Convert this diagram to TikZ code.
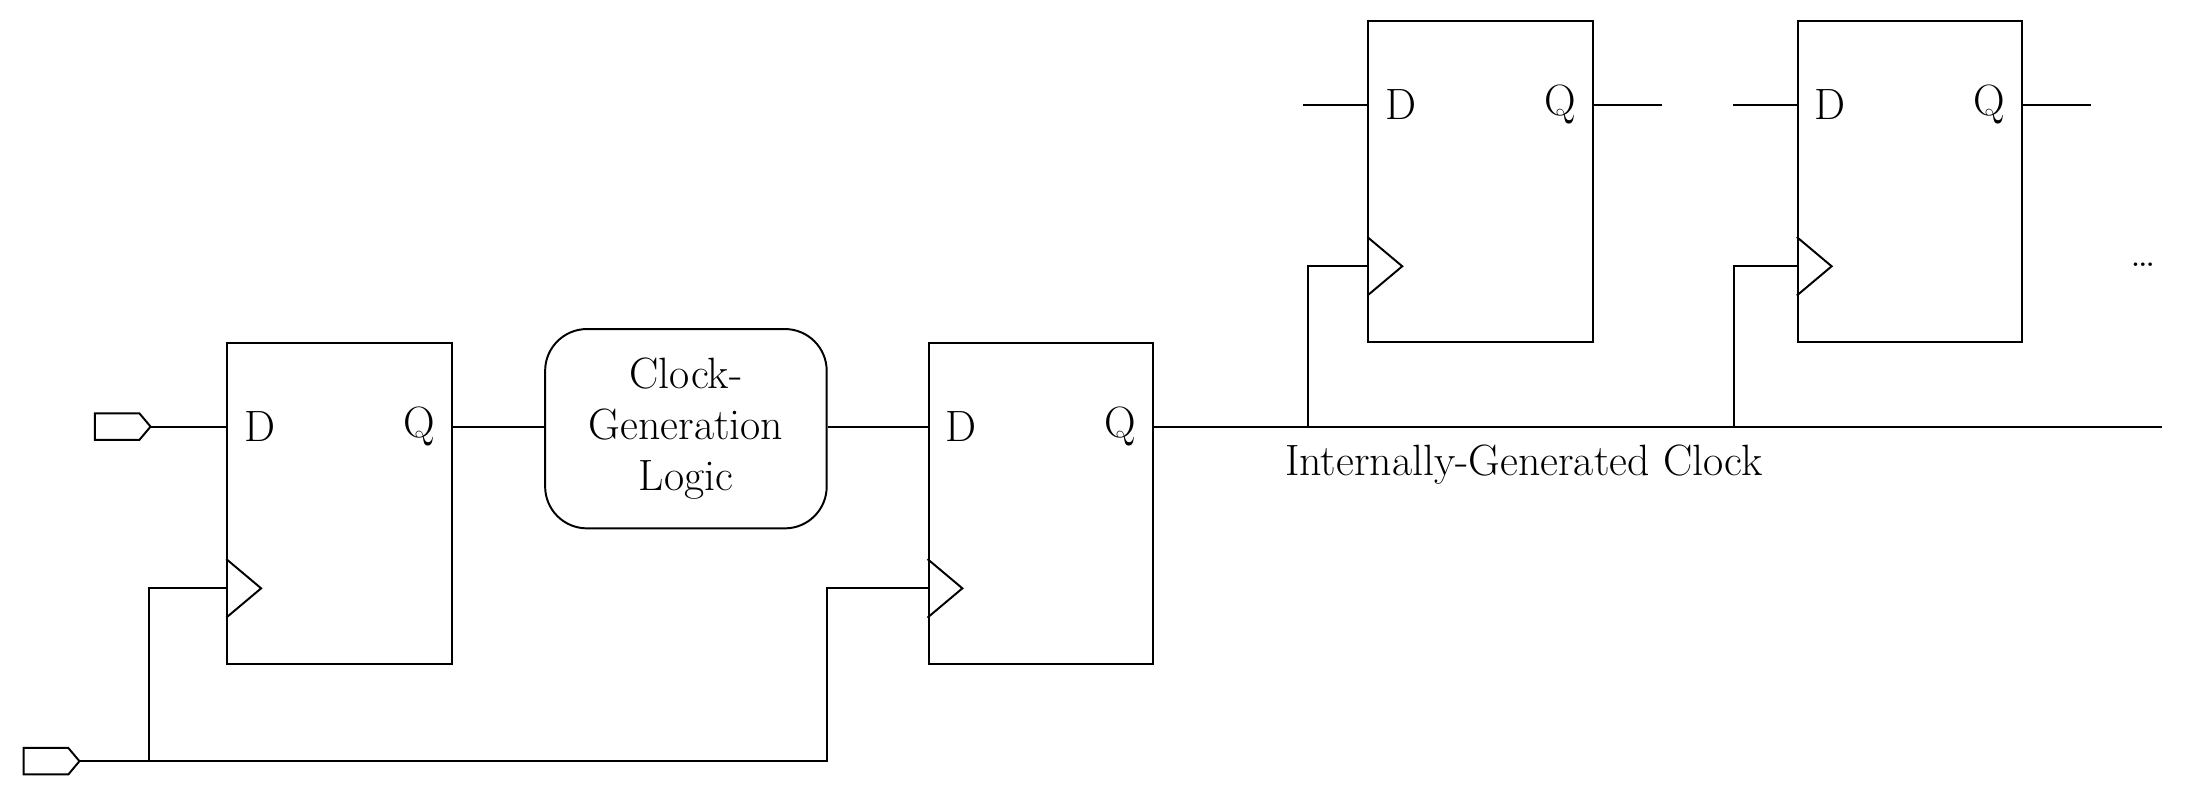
\documentclass[tikz,border=0pt]{standalone}
\usetikzlibrary{positioning}
\begin{document}
\begin{tikzpicture}[x=0.02cm,y=-0.02cm,thick,
  every node/.style={font=\fontsize{17.9}{21}\selectfont},
  ff/.style={draw,minimum width=3.22cm,minimum height=4.6cm},
  logic/.style={draw,rounded corners=0.6cm,minimum width=4.04cm,minimum height=2.86cm,align=center}]
  \useasboundingbox (0,0) rectangle (1568,571);

  % Flip-flops
  \foreach \n/\x/\y in {ff1/243.5/361, ff2/746.5/361, ff3/1062/130, ff4/1370/130}{
    \node[ff] (\n) at (\x,\y) {};
    \coordinate (\n-d) at ([shift={(0,-55)}]\n.west);
    \coordinate (\n-q) at ([shift={(0,-55)}]\n.east);
    \coordinate (\n-clk) at ([shift={(0,61)}]\n.west);
    \node[anchor=center] (\n-dl) at ([shift={(24,0)}]\n-d) {D};
    \node[anchor=center] (\n-ql) at ([shift={(-24,0)}]\n-q) {Q};
    \draw ([shift={(0,-21)}]\n-clk) -- ++(25,21) -- ++(-25,21);
  }

  % Clock generation
  \node[logic] (cg) at (492,307.5) {Clock-\\Generation\\Logic};

  % Input ports
  \coordinate (in1) at (108,306);
  \coordinate (in2) at (57,546);
  \draw (in1) -- ++(-8,-9.5) -- ++(-32,0) -- ++(0,19) -- ++(32,0) -- cycle;
  \draw (in2) -- ++(-8,-9.5) -- ++(-32,0) -- ++(0,19) -- ++(32,0) -- cycle;

  % Data path
  \draw (in1) -- (ff1-d);
  \draw (ff1-q) -- (ff1-q -| cg.west);
  \draw (cg.east |- ff2-d) -- (ff2-d);

  % External clock
  \coordinate (j1) at (107,546);
  \coordinate (j2) at (593,546);
  \draw (in2) -- (j2) |- (ff2-clk);
  \draw (j1) |- (ff1-clk);

  % Internally generated clock
  \coordinate (bus) at (1551,307);
  \coordinate (t3) at (938,307);
  \coordinate (t4) at (1244,307);
  \draw (ff2-q) -- (ff2-q -| bus);
  \node (busl) at (1093,333) {Internally-Generated Clock};
  \draw (t3) |- (ff3-clk);
  \draw (t4) |- (ff4-clk);
  \foreach \n in {ff3,ff4}{
    \draw (\n-d) -- ++(-46,0);
    \draw (\n-q) -- ++(49,0);
  }
  \node (more) at (1537,190) {\dots};
\end{tikzpicture}
\end{document}
